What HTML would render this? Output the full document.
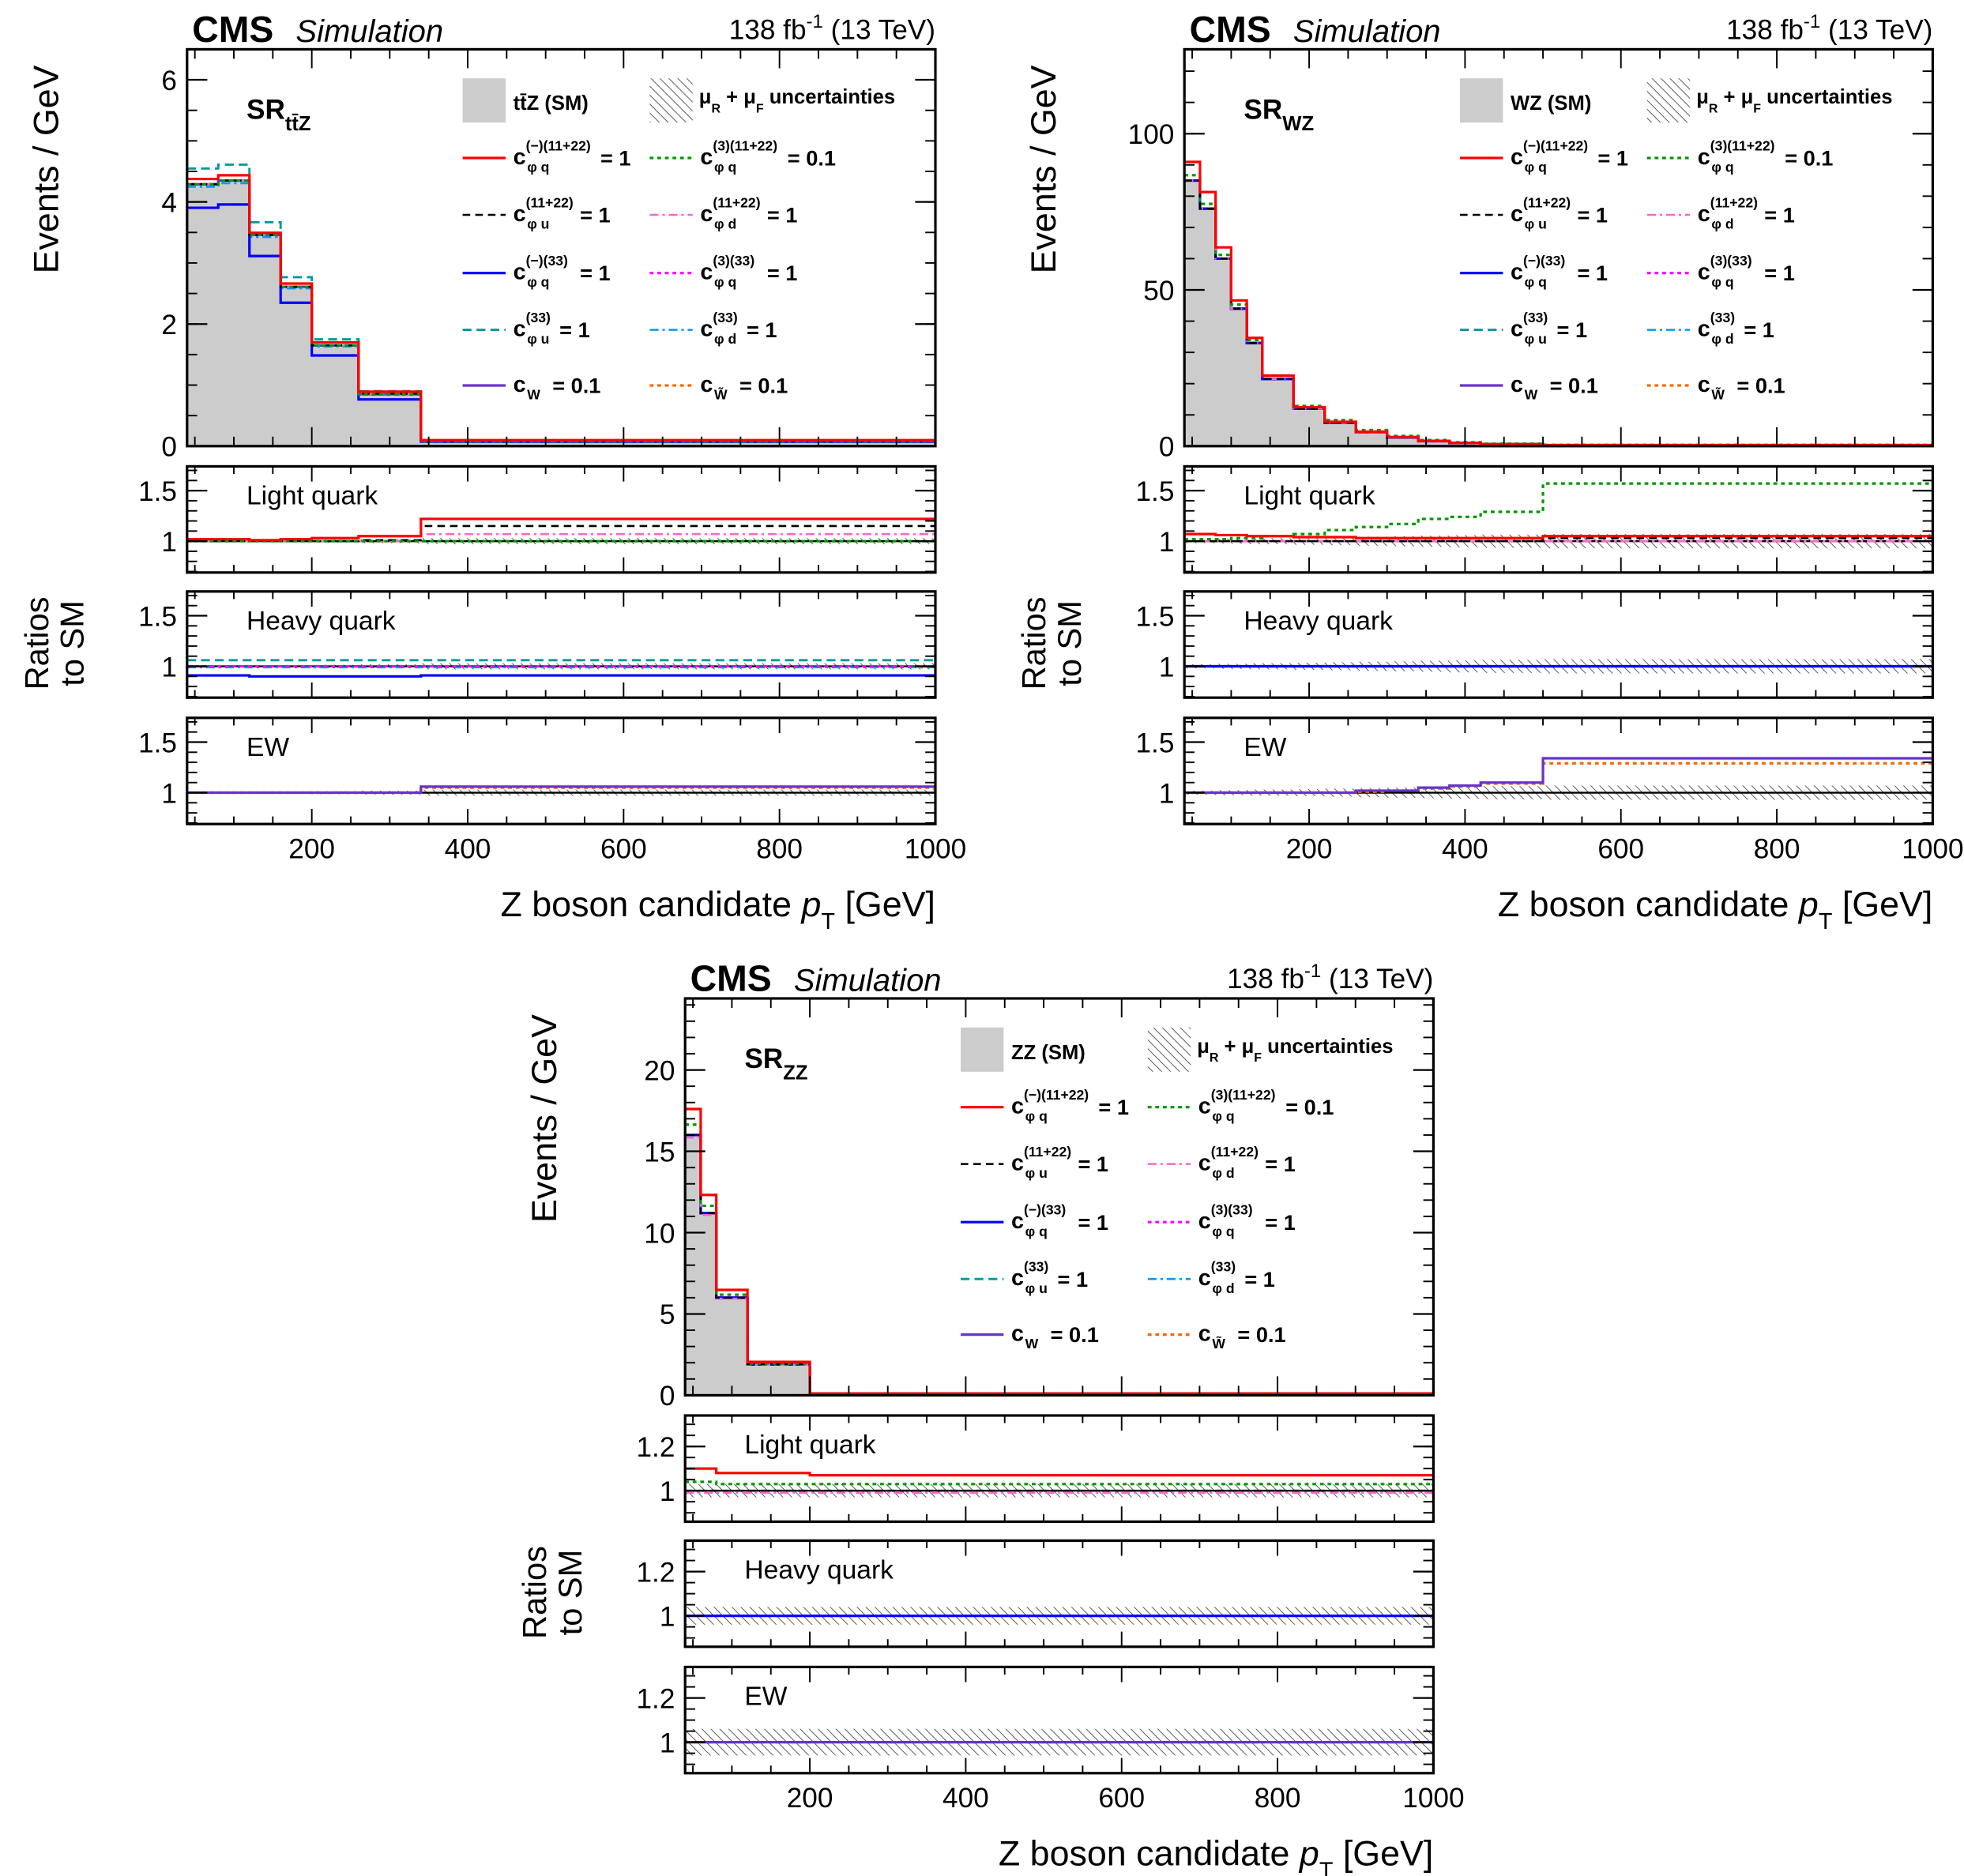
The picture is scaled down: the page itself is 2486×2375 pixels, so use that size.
<!DOCTYPE html>
<html><head><meta charset="utf-8"><style>
html,body{margin:0;padding:0;background:#fff;}
svg{display:block;font-family:"Liberation Sans",sans-serif;}
</style></head><body>
<svg id="c" width="2486" height="2375" viewBox="0 0 1553.75 1484.375" xmlns="http://www.w3.org/2000/svg">
<defs>
<pattern id="hatch" patternUnits="userSpaceOnUse" width="5" height="5" patternTransform="rotate(-45)">
<line x1="0" y1="0" x2="0" y2="5" stroke="#555" stroke-width="1.2"/>
</pattern>
</defs>
</svg>
<script>
// ---------- data ----------
const ttzEdges = [40,80,120,160,200,260,340,1000];
const ttzSM = [4.29,4.35,3.46,2.61,1.65,0.85,0.08];
const ttzRed = [1.02,1.02,1.01,1.02,1.03,1.05,1.22];
const ttzGreen = [1.0,1.0,1.0,1.0,1.0,1.0,1.0];
const ttzBlack = [1.0,1.0,1.0,1.0,1.0,1.01,1.15];
const ttzPink = [1.0,1.0,1.0,1.0,1.0,1.0,1.07];
const ttzBlue = [0.91,0.91,0.90,0.90,0.90,0.90,0.91];
const ttzMagenta = [1.0,1.0,1.0,1.0,1.0,1.0,1.0];
const ttzTeal = [1.06,1.06,1.06,1.06,1.06,1.06,1.06];
const ttzAzure = [0.99,0.99,0.99,0.99,0.99,0.99,0.99];
const ttzPurple = [1.0,1.0,1.0,1.0,1.0,1.0,1.06];
const ttzOrange = [1.0,1.0,1.0,1.0,1.0,1.0,1.05];
const ttzUnc = [0.01,0.01,0.01,0.01,0.015,0.02,0.03];

const wzEdges = [40,60,80,100,120,140,180,220,260,300,340,380,420,500,1000];
const wzSM = [85,76,60,44,33,21.5,12,7.5,4.5,2.8,1.6,1.0,0.6,0.25];
const wzRed = [1.07,1.07,1.06,1.06,1.05,1.05,1.04,1.04,1.03,1.03,1.03,1.03,1.03,1.05];
const wzGreen = [1.02,1.02,1.02,1.03,1.03,1.05,1.07,1.11,1.14,1.17,1.22,1.24,1.29,1.57];
const wzBlack = [1,1,1,1,1,1,1,1,1,1,1,1,1,1.03];
const wzPink = [1,1,1,1,1,1,1,1,1,1,1,1,1,1];
const wzBlue = [1,1,1,1,1,1,1,1,1,1,1,1,1,1];
const wzMagenta = [1,1,1,1,1,1,1,1,1,1,1,1,1,1];
const wzTeal = [1,1,1,1,1,1,1,1,1,1,1,1,1,1];
const wzAzure = [1,1,1,1,1,1,1,1,1,1,1,1,1,1];
const wzPurple = [1,1,1,1,1,1,1,1,1.02,1.02,1.05,1.07,1.10,1.34];
const wzOrange = [1,1,1,1,1,1,1,1,1.01,1.02,1.04,1.06,1.09,1.29];
const wzUnc = [0.02,0.02,0.025,0.025,0.03,0.03,0.035,0.04,0.045,0.05,0.055,0.06,0.065,0.07];

const zzEdges = [40,60,80,120,200,1000];
const zzSM = [16,11.2,6.0,1.9,0.1];
const zzRed = [1.10,1.10,1.08,1.08,1.07];
const zzGreen = [1.04,1.04,1.03,1.03,1.03];
const zzBlack = [1.0,1.0,1.0,1.0,1.0];
const zzPink = [0.99,0.99,0.99,0.99,0.99];
const zzBlue = [1.0,1.0,1.0,1.0,1.0];
const zzMagenta = [1.0,1.0,1.0,1.0,1.0];
const zzTeal = [1.0,1.0,1.0,1.0,1.0];
const zzAzure = [1.0,1.0,1.0,1.0,1.0];
const zzPurple = [1.0,1.0,1.0,1.0,1.0];
const zzOrange = [1.0,1.0,1.0,1.0,1.0];
const zzUncLight = [0.03,0.03,0.03,0.03,0.03];
const zzUncHeavy = [0.04,0.04,0.04,0.04,0.04];
const zzUncEW = [0.06,0.06,0.06,0.06,0.06];

const xTicks = [200,400,600,800,1000];

// ---------- styles ----------
const STY = [
 {c:'#ff0000',d:'',w:2},
 {c:'#009900',d:'3,3',w:2},
 {c:'#000000',d:'6,4',w:1.6},
 {c:'#ff66cc',d:'7,3,2,3',w:1.6},
 {c:'#0000ff',d:'',w:2},
 {c:'#ff00ff',d:'3,3',w:2},
 {c:'#009999',d:'7,4',w:1.8},
 {c:'#0099ff',d:'7,3,2,3',w:1.6},
 {c:'#6633cc',d:'',w:2},
 {c:'#ff6600',d:'3,3',w:2}
];
const LEG = [
 ['(−)(11+22)','φ q','= 1'],['(3)(11+22)','φ q','= 0.1'],
 ['(11+22)','φ u','= 1'],['(11+22)','φ d','= 1'],
 ['(−)(33)','φ q','= 1'],['(3)(33)','φ q','= 1'],
 ['(33)','φ u','= 1'],['(33)','φ d','= 1'],
 ['','W','= 0.1'],['','W̃','= 0.1']
];

const svg = document.getElementById('c');
const NS = 'http://www.w3.org/2000/svg';
function mk(tag, attrs, parent){
  const e = document.createElementNS(NS, tag);
  for(const k in attrs) e.setAttribute(k, attrs[k]);
  (parent||svg).appendChild(e); return e;
}
function txt(x,y,s,size,opts,parent){
  const o = Object.assign({x:x,y:y,'font-size':size,fill:'#000'},opts||{});
  const t = mk('text',o,parent); t.textContent = s; return t;
}
let clipN = 0;

function stepPath(edges, vals, fx, fy){
  let d = 'M'+fx(edges[0])+','+fy(vals[0]);
  for(let i=0;i<vals.length;i++){
    d += ' H'+fx(edges[i+1]);
    if(i+1<vals.length) d += ' V'+fy(vals[i+1]);
  }
  return d;
}

function frameTicks(g, x0,x1,y0,y1, fx, fy, yMajor, yMinor, majLen){
  for(let v=50; v<=1000; v+=50){
    const X = fx(v); const L = (v%200===0)? majLen : majLen*0.5;
    mk('line',{x1:X,x2:X,y1:y1,y2:y1-L,stroke:'#000','stroke-width':1.2},g);
    mk('line',{x1:X,x2:X,y1:y0,y2:y0+L,stroke:'#000','stroke-width':1.2},g);
  }
  yMinor.forEach(v=>{const Y=fy(v);
    mk('line',{x1:x0,x2:x0+8,y1:Y,y2:Y,stroke:'#000','stroke-width':1.2},g);
    mk('line',{x1:x1,x2:x1-8,y1:Y,y2:Y,stroke:'#000','stroke-width':1.2},g);});
  yMajor.forEach(v=>{const Y=fy(v);
    mk('line',{x1:x0,x2:x0+16,y1:Y,y2:Y,stroke:'#000','stroke-width':1.4},g);
    mk('line',{x1:x1,x2:x1-16,y1:Y,y2:Y,stroke:'#000','stroke-width':1.4},g);});
  mk('rect',{x:x0,y:y0,width:x1-x0,height:y1-y0,fill:'none',stroke:'#000','stroke-width':2},g);
}

function chart(cfg){
  const ox=cfg.ox, oy=cfg.oy;
  const x0=148+ox, x1=740+ox;
  const fx = v => x0 + (v-40)*(x1-x0)/960;
  const G = mk('g',{});
  
  
  const cms = txt(x0+4, oy+33, 'CMS', 29, {'font-weight':'bold'}, G);
   
  const sim = txt(x0+86, oy+33, 'Simulation', 25, {'font-style':'italic'}, G);
   
  const lum = mk('text',{x:x1,y:oy+31,'font-size':22,'text-anchor':'end'},G);
   
  lum.innerHTML = '138 fb<tspan dy="-9" font-size="15">-1</tspan><tspan dy="9"> (13 TeV)</tspan>';

  const my0=39+oy, my1=353+oy;
  const fy = v => my1 - v*(my1-my0)/cfg.ymax;
  const mg = mk('g',{},G);
   
  clipN++; const cid='cl'+clipN;
  const cp = mk('clipPath',{id:cid},G); mk('rect',{x:x0,y:my0,width:x1-x0,height:my1-my0},cp);
  const inner = mk('g',{'clip-path':'url(#'+cid+')'},mg);
  const e=cfg.edges, sm=cfg.sm;
  const fill = mk('path',{d:'M'+fx(e[0])+','+fy(0)+' V'+fy(sm[0])+stepPath(e,sm,fx,fy).replace(/^M[^ ]+/,'')+' V'+fy(0)+' Z',fill:'#cccccc',stroke:'#999','stroke-width':0.8},inner);
   
  const order=[9,8,7,6,5,4,3,2,1,0];
  order.forEach(i=>{
    const vals = sm.map((v,k)=>v*cfg.ratios[i][k]);
    const p = mk('path',{d:stepPath(e,vals,fx,fy),fill:'none',stroke:STY[i].c,'stroke-width':STY[i].w,'stroke-dasharray':STY[i].d},inner);
     
  });
  const yMin=[]; for(let v=cfg.yminor; v<cfg.ymax; v+=cfg.yminor) yMin.push(v);
  frameTicks(mg,x0,x1,my0,my1,fx,fy,cfg.yticks,yMin,15);
  cfg.yticks.forEach(v=>{
    const t=txt(x0-8, fy(v)+8, String(v), 22, {'text-anchor':'end'}, mg);
     
  });
  const yt = txt(0,0,'Events / GeV',28,{'text-anchor':'middle',transform:'translate('+(ox+cfg.ytx)+','+(oy+134)+') rotate(-90)'},G);
   
  const sr = mk('text',{x:x0+47,y:my0+55,'font-size':22,'font-weight':'bold'},mg);
   
  sr.innerHTML = 'SR<tspan dy="9" font-size="16">'+cfg.sub+'</tspan>';

  const lg = mk('g',{},mg);
   
  const lx = x0+218, lx2 = x0+366;
  mk('rect',{x:lx,y:my0+23,width:34,height:35,fill:'#cccccc'},lg);
  txt(lx+40,my0+48,cfg.smLabel,16,{'font-weight':'bold'},lg);
  mk('rect',{x:lx2,y:my0+23,width:34,height:35,fill:'url(#hatch)'},lg);
  const ut = mk('text',{x:lx2+39,y:my0+43,'font-size':16,'font-weight':'bold'},lg);
  ut.innerHTML='μ<tspan dy="7" font-size="10">R</tspan><tspan dy="-7"> + μ</tspan><tspan dy="7" font-size="10">F</tspan><tspan dy="-7"> uncertainties</tspan>';
  const rows=[86,131,177,222,266];
  for(let i=0;i<10;i++){
    const col=i%2, row=Math.floor(i/2);
    const bx = col? lx2 : lx; const by = my0+rows[row];
    const ent = mk('g',{},lg);
     
    mk('line',{x1:bx,x2:bx+34,y1:by,y2:by,stroke:STY[i].c,'stroke-width':STY[i].w,'stroke-dasharray':STY[i].d},ent);
    txt(bx+40,by+5,'c',18,{'font-weight':'bold'},ent);
    const supW = LEG[i][0].length*5.4;
    if(LEG[i][0]) txt(bx+50,by-6,LEG[i][0],11,{'font-weight':'bold'},ent);
    txt(bx+51,by+11,LEG[i][1],11,{'font-weight':'bold'},ent);
    const w = Math.max(supW, LEG[i][0]?0:16);
    txt(bx+55+w,by+6,LEG[i][2],17,{'font-weight':'bold'},ent);
  }

  const rp=[[369,453,'Light quark',[0,1,2,3],cfg.unc[0]],[468,552,'Heavy quark',[4,5,6,7],cfg.unc[1]],[568,652,'EW',[8,9],cfg.unc[2]]];
  rp.forEach((r,ri)=>{
    const ry0=r[0]+oy, ry1=r[1]+oy;
    const fr = v => ry1 - (v-cfg.rmin)*(ry1-ry0)/(cfg.rmax-cfg.rmin);
    const g = mk('g',{},G);
     
    clipN++; const id='cl'+clipN;
    const c2=mk('clipPath',{id:id},g); mk('rect',{x:x0,y:ry0,width:x1-x0,height:ry1-ry0},c2);
    const ig = mk('g',{'clip-path':'url(#'+id+')'},g);
    const up = r[4].map(u=>1+u), dn=r[4].map(u=>1-u);
    let d = stepPath(e,up,fx,fr);
    let rev='';
    for(let k=dn.length-1;k>=0;k--){ rev+=' V'+fr(dn[k])+' H'+fx(e[k]); }
    const band = mk('path',{d:d+rev+' Z',fill:'url(#hatch)',stroke:'none'},ig);
     
    mk('line',{x1:x0,x2:x1,y1:fr(1),y2:fr(1),stroke:'#000','stroke-width':1.5},ig);
    r[3].slice().reverse().forEach(i=>{
      const p=mk('path',{d:stepPath(e,cfg.ratios[i],fx,fr),fill:'none',stroke:STY[i].c,'stroke-width':STY[i].w,'stroke-dasharray':STY[i].d},ig);
       
    });
    const rmin=[]; for(let v=Math.ceil(cfg.rmin/cfg.rminor)*cfg.rminor; v<cfg.rmax; v+=cfg.rminor) rmin.push(+v.toFixed(3));
    frameTicks(g,x0,x1,ry0,ry1,fx,fr,cfg.rticks,rmin,12);
    cfg.rticks.forEach(v=>{
      const t=txt(x0-8,fr(v)+8,String(v),22,{'text-anchor':'end'},g);
       
    });
    txt(x0+47,ry0+30,r[2],21,{},g);
  });
  const rt = mk('g',{transform:'translate('+(ox+cfg.ytx-8)+','+(oy+509)+') rotate(-90)'},G);
   
  txt(0,0,'Ratios',26,{'text-anchor':'middle'},rt);
  txt(0,28,'to SM',26,{'text-anchor':'middle'},rt);

  xTicks.forEach(v=>{
    const t=txt(fx(v),oy+679,String(v),22,{'text-anchor':'middle'},G);
     
  });
  const xt = mk('text',{x:x1,y:oy+725,'font-size':28,'text-anchor':'end'},G);
   
  xt.innerHTML='Z boson candidate <tspan font-style="italic">p</tspan><tspan dy="10" font-size="18">T</tspan><tspan dy="-10"> [GeV]</tspan>';
}

chart({name:'ttz-chart',ox:0,oy:0,edges:ttzEdges,sm:ttzSM,ymax:6.5,yticks:[0,2,4,6],yminor:0.5,ytx:46,sub:'tt̄Z',smLabel:'tt̄Z (SM)',
  ratios:[ttzRed,ttzGreen,ttzBlack,ttzPink,ttzBlue,ttzMagenta,ttzTeal,ttzAzure,ttzPurple,ttzOrange],
  unc:[ttzUnc,ttzUnc,ttzUnc],rmin:0.69,rmax:1.74,rticks:[1,1.5],rminor:0.1});
chart({name:'wz-chart',ox:789,oy:0,edges:wzEdges,sm:wzSM,ymax:127,yticks:[0,50,100],yminor:10,ytx:46,sub:'WZ',smLabel:'WZ (SM)',
  ratios:[wzRed,wzGreen,wzBlack,wzPink,wzBlue,wzMagenta,wzTeal,wzAzure,wzPurple,wzOrange],
  unc:[wzUnc,wzUnc,wzUnc],rmin:0.69,rmax:1.74,rticks:[1,1.5],rminor:0.1});
chart({name:'zz-chart',ox:394,oy:751,edges:zzEdges,sm:zzSM,ymax:24.4,yticks:[0,5,10,15,20],yminor:1,ytx:46,sub:'ZZ',smLabel:'ZZ (SM)',
  ratios:[zzRed,zzGreen,zzBlack,zzPink,zzBlue,zzMagenta,zzTeal,zzAzure,zzPurple,zzOrange],
  unc:[zzUncLight,zzUncHeavy,zzUncEW],rmin:0.86,rmax:1.34,rticks:[1,1.2],rminor:0.05});
</script>
</body></html>
